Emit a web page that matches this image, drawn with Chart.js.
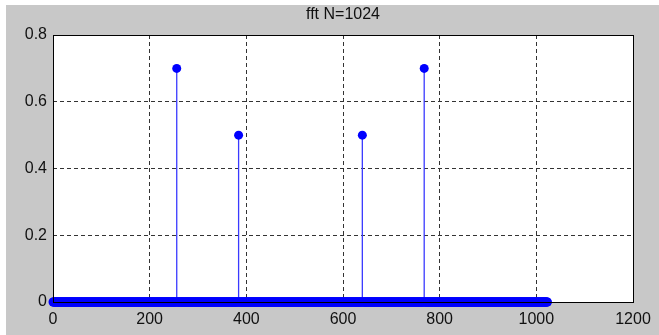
<!DOCTYPE html>
<html>
<head>
<meta charset="utf-8">
<script src="https://cdn.jsdelivr.net/npm/chart.js@4"></script>
<style>
    html, body { margin: 0; padding: 0; background: #ffffff; }
    canvas { display: block; }
</style>
</head>
<body>
<canvas id="fftChart" width="659" height="335"></canvas>
<script>
// donnees du graphe (fft N=1024)
const titleText = 'fft N=1024';
const nPoints = 1024;
const peakBins = [256, 384, 640, 768];
const peakValues = [0.7, 0.5, 0.5, 0.7];
const xTicks = [0, 200, 400, 600, 800, 1000, 1200];
const yTicks = [0, 0.2, 0.4, 0.6, 0.8];

// toutes les raies : zero partout sauf les pics
let magnitudes = [];
for (let i = 0; i < nPoints; i++) {
    magnitudes.push(0);
}
for (let i = 0; i < peakBins.length; i++) {
    magnitudes[peakBins[i]] = peakValues[i];
}
let markerPoints = magnitudes.map((v, i) => ({ x: i, y: v }));

const blue = '#0000ff';
const stemBlue = '#3a3aff';

// un dataset par tige
let stemSets = [];
for (let i = 0; i < peakBins.length; i++) {
    stemSets.push({
        type: 'line',
        data: [{ x: peakBins[i], y: 0 }, { x: peakBins[i], y: peakValues[i] }],
        borderColor: stemBlue,
        borderWidth: 1.3,
        pointRadius: 0,
        clip: false,
        order: 2
    });
}

// fond gris de la figure + zone blanche des axes
const figureBackground = {
    id: 'figureBackground',
    beforeDraw(chart) {
        const c = chart.ctx;
        const a = chart.chartArea;
        c.save();
        c.fillStyle = '#ffffff';
        c.fillRect(0, 0, chart.width, chart.height);
        c.fillStyle = '#c8c8c8';
        c.fillRect(6, 5, chart.width - 6, chart.height - 5);
        c.fillStyle = '#ffffff';
        c.fillRect(a.left, a.top, a.right - a.left, a.bottom - a.top);
        c.restore();
    }
};

// cadre noir par dessus les points, et le titre
const axesBox = {
    id: 'axesBox',
    afterDatasetsDraw(chart) {
        const c = chart.ctx;
        const a = chart.chartArea;
        c.save();
        c.strokeStyle = '#000000';
        c.lineWidth = 1;
        c.strokeRect(Math.round(a.left) + 0.5, Math.round(a.top) + 0.5,
            Math.round(a.right - a.left), Math.round(a.bottom - a.top));
        c.fillStyle = '#111111';
        c.font = '16px "Liberation Sans", Arial, sans-serif';
        c.textAlign = 'center';
        c.textBaseline = 'middle';
        c.fillText(titleText, (a.left + a.right) / 2, 15);
        c.restore();
    }
};

const tickFont = { family: '"Liberation Sans", Arial, sans-serif', size: 16 };

const ctx = document.getElementById('fftChart').getContext('2d');
const fftChart = new Chart(ctx, {
    type: 'scatter',
    data: {
        datasets: [{
            data: markerPoints,
            showLine: false,
            pointRadius: 4.5,
            pointHoverRadius: 4.5,
            pointBackgroundColor: blue,
            pointBorderWidth: 0,
            clip: false,
            order: 1
        }].concat(stemSets)
    },
    options: {
        responsive: false,
        animation: false,
        devicePixelRatio: 1,
        layout: {
            padding: { top: 35, right: 26, bottom: 0, left: 0 }
        },
        plugins: {
            legend: { display: false },
            title: { display: false },
            tooltip: { enabled: false }
        },
        scales: {
            x: {
                type: 'linear',
                min: xTicks[0],
                max: xTicks[xTicks.length - 1],
                afterBuildTicks: (scale) => {
                    scale.ticks = xTicks.map(v => ({ value: v }));
                },
                afterFit: (scale) => {
                    scale.height = 33;
                },
                // en v4 le pointille de la grille passe par border.dash
                border: { display: false, dash: [4, 3] },
                grid: {
                    color: '#333333',
                    lineWidth: 1,
                    drawTicks: false
                },
                ticks: {
                    color: '#111111',
                    font: tickFont,
                    padding: 8,
                    maxRotation: 0,
                    autoSkip: false,
                    callback: (v) => String(v)
                }
            },
            y: {
                type: 'linear',
                min: yTicks[0],
                max: yTicks[yTicks.length - 1],
                afterBuildTicks: (scale) => {
                    scale.ticks = yTicks.map(v => ({ value: v }));
                },
                afterFit: (scale) => {
                    scale.width = 53;
                },
                border: { display: false, dash: [4, 3] },
                grid: {
                    color: '#333333',
                    lineWidth: 1,
                    drawTicks: false
                },
                ticks: {
                    color: '#111111',
                    font: tickFont,
                    padding: 6,
                    autoSkip: false,
                    callback: (v) => String(v)
                }
            }
        }
    },
    plugins: [figureBackground, axesBox]
});
</script>
</body>
</html>
